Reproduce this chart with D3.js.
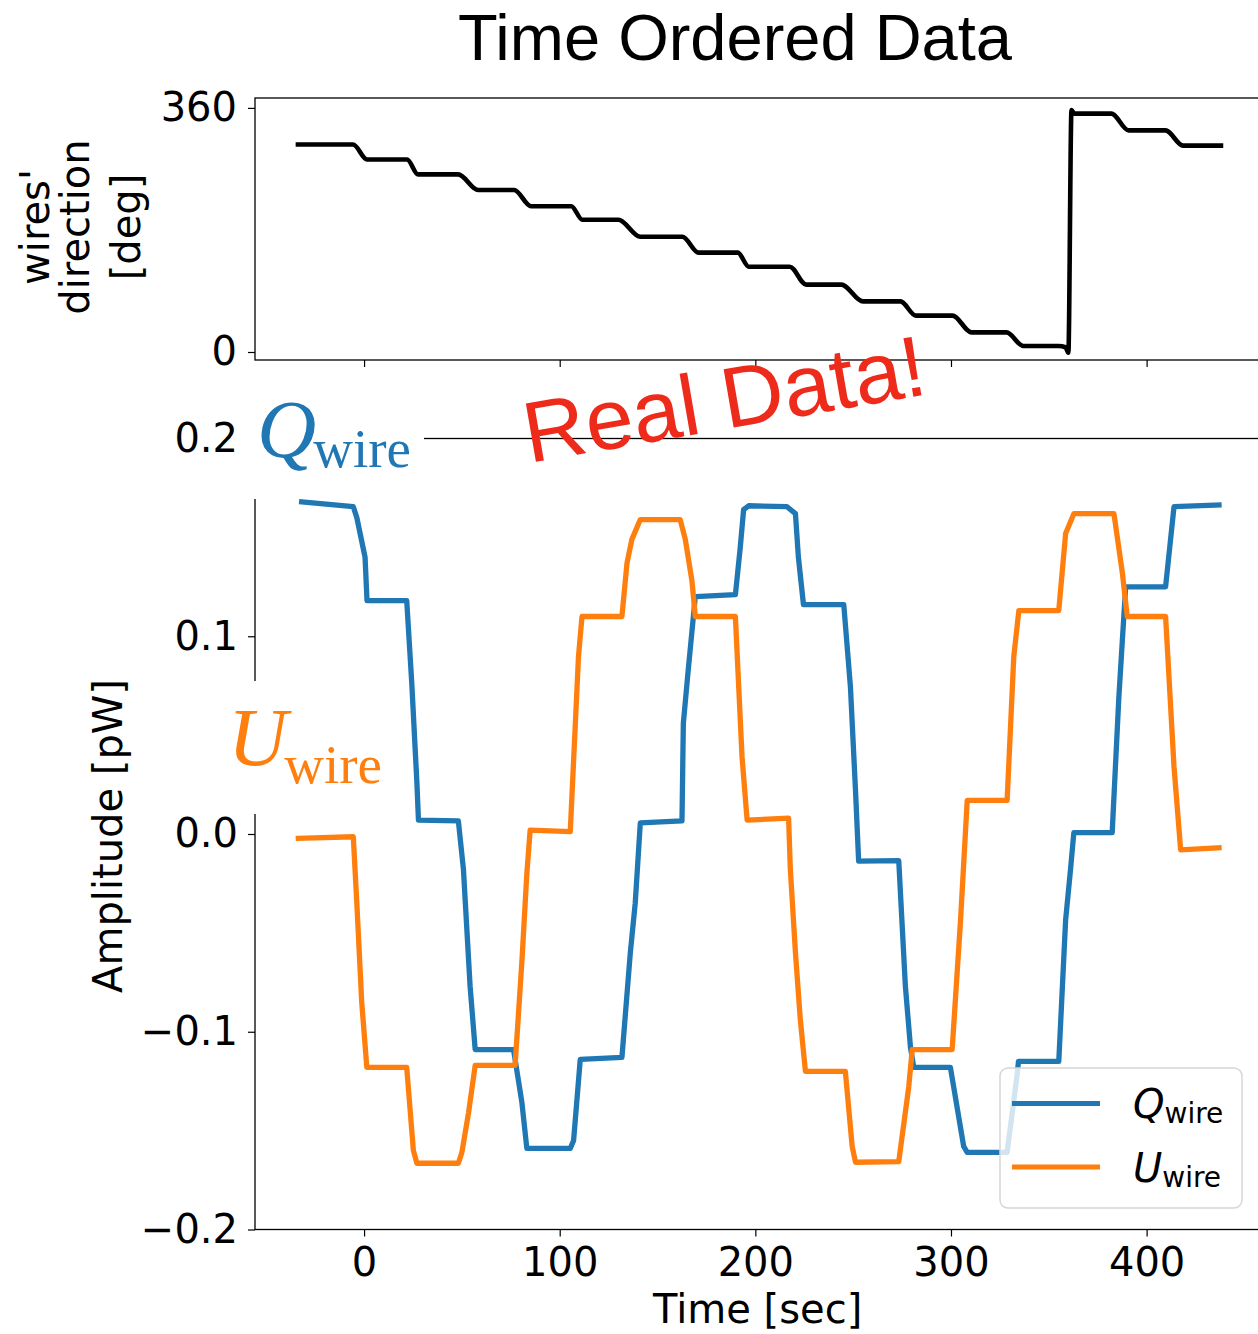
<!DOCTYPE html>
<html>
<head>
<meta charset="utf-8">
<script src="https://cdn.jsdelivr.net/npm/d3@7"></script>
<style>
  body { margin: 0; background: #fff; }
  svg { display: block; }
</style>
</head>
<body>
<div id="main"></div>
<script>
// tick values
const timeTicks = [0, 100, 200, 300, 400];
const angleTicks = [0, 360];
const ampTicks = [-0.2, -0.1, 0.0, 0.1, 0.2];

// wires' direction [deg] vs time [sec]
const wireAngle = [[-33.8,306],[-5.6,306],[1.5,284],[22,284],[27.6,262],[48.1,262],[58.3,239],[76.7,239],
  [85.4,215],[105.9,215],[111.6,195],[130,195],[141.2,170],[162.7,170],[171,146.5],[191,146.5],
  [196.7,125.7],[217.6,125.7],[226,99.4],[244,99.4],[255,74.6],[274.2,74.6],[282,53.7],[300.8,53.7],
  [310.5,28.9],[328.4,28.9],[337,8.8],[355,8.8],[358.5,7],[360,-1],[361.6,357],[363,351.6],
  [382,351.6],[390.8,326.8],[409.7,326.8],[418.6,304.4],[438,304.4]];

// Q_wire amplitude [pW] vs time [sec]
const qWire = [[-31.9,0.168],[-5.5,0.1655],[-3.7,0.160],[0.5,0.140],[1.5,0.118],[21.8,0.118],[24.4,0.076],
  [27.0,0.026],[27.8,0.007],[48.2,0.0066],[50.8,-0.018],[54.2,-0.077],[56.8,-0.109],[76.4,-0.109],
  [77.2,-0.114],[80.7,-0.136],[83.2,-0.159],[105.4,-0.159],[107.1,-0.155],[110.5,-0.114],[131.8,-0.113],
  [136.1,-0.060],[138.6,-0.035],[141.2,0.0056],[162.5,0.0066],[163.2,0.056],[165.7,0.083],[169.3,0.120],
  [189.8,0.121],[192.3,0.145],[194.0,0.164],[196.6,0.166],[216.2,0.1655],[220.5,0.162],[222.0,0.140],
  [224.6,0.116],[245.2,0.116],[248.6,0.0745],[251.2,0.022],[252.8,-0.0137],[273.3,-0.0135],[276.7,-0.077],
  [279.3,-0.108],[281.0,-0.118],[299.7,-0.118],[306.5,-0.158],[308.3,-0.161],[328.7,-0.161],[333.9,-0.121],
  [334.5,-0.115],[355.1,-0.115],[358.6,-0.0435],[361.1,-0.018],[362.8,0.0007],[382.4,0.0007],[385.8,0.069],
  [387.6,0.098],[389.3,0.125],[409.7,0.125],[414.0,0.1655],[437.0,0.1664]];

// U_wire amplitude [pW] vs time [sec]
const uWire = [[-33.6,-0.0022],[-5.5,-0.0014],[-3.7,-0.035],[-1.2,-0.085],[1.4,-0.118],[21.8,-0.118],
  [25.2,-0.160],[27.0,-0.1665],[48.2,-0.1665],[50.0,-0.161],[53.4,-0.141],[56.8,-0.117],[77.2,-0.117],
  [80.7,-0.064],[83.2,-0.020],[84.9,0.002],[105.4,0.0012],[109.6,0.0897],[111.4,0.110],[131.8,0.110],
  [134.4,0.137],[136.9,0.149],[141.2,0.159],[161.6,0.159],[164.2,0.149],[167.6,0.128],[169.3,0.110],
  [189.8,0.110],[193.2,0.039],[195.8,0.007],[217.0,0.008],[217.9,-0.018],[220.5,-0.060],[223.0,-0.094],
  [225.6,-0.120],[246.0,-0.120],[249.5,-0.158],[251.2,-0.166],[273.3,-0.1657],[278.4,-0.128],[280.2,-0.109],
  [300.6,-0.109],[304.9,-0.0435],[308.3,0.017],[328.7,0.017],[332.1,0.0897],[334.7,0.113],[355.1,0.113],
  [358.6,0.152],[362.8,0.162],[383.3,0.162],[387.6,0.132],[390.1,0.110],[409.7,0.110],[414.0,0.034],
  [417.4,-0.008],[437.0,-0.007]];

const ctx = {
  width: 1258, height: 1334,
  left: 255, right: 1264,
  top1: 98, bottom1: 360,
  top2: 438.5, bottom2: 1229.5,
  blue: "#1f77b4", orange: "#ff7f0e",
  font: "'DejaVu Sans', sans-serif"
};

const svg = d3.select("#main").append("svg")
  .attr("width", ctx.width).attr("height", ctx.height)
  .style("font-family", ctx.font);

const x = d3.scaleLinear().domain([-55.75, 460]).range([ctx.left, ctx.right]);
const yAng = d3.scaleLinear().domain([-11.8, 374.6]).range([ctx.bottom1, ctx.top1]);
const yAmp = d3.scaleLinear().domain([-0.2, 0.2]).range([ctx.bottom2, ctx.top2]);

// title
svg.append("text").attr("x", 735).attr("y", 60)
  .attr("text-anchor", "middle")
  .style("font-family", "'Liberation Sans', Arial, sans-serif")
  .style("font-size", "65px")
  .text("Time Ordered Data");

// frames
function frame(top, bottom) {
  svg.append("rect")
    .attr("x", ctx.left).attr("y", top)
    .attr("width", ctx.right - ctx.left).attr("height", bottom - top)
    .attr("fill", "none").attr("stroke", "#000").attr("stroke-width", 1.3);
}
frame(ctx.top1, ctx.bottom1);
frame(ctx.top2, ctx.bottom2);

function styleAxis(g) {
  g.select(".domain").remove();
  g.selectAll(".tick line").attr("stroke", "#000").attr("stroke-width", 1.2);
  g.selectAll(".tick text").style("font-size", "40px").style("font-family", ctx.font).attr("fill", "#000");
}

// top panel axes
svg.append("g").attr("transform", `translate(${ctx.left},0)`)
  .call(d3.axisLeft(yAng).tickValues(angleTicks).tickSize(7).tickPadding(11).tickSizeOuter(0))
  .call(styleAxis);
svg.append("g").attr("transform", `translate(0,${ctx.bottom1})`)
  .call(d3.axisBottom(x).tickValues(timeTicks).tickSize(7).tickFormat("").tickSizeOuter(0))
  .call(styleAxis);

// bottom panel axes
svg.append("g").attr("transform", `translate(${ctx.left},0)`)
  .call(d3.axisLeft(yAmp).tickValues(ampTicks).tickSize(7).tickPadding(10).tickSizeOuter(0)
    .tickFormat(d => d === 0 ? "0.0" : d3.format(".1f")(d)))
  .call(styleAxis);
svg.append("g").attr("transform", `translate(0,${ctx.bottom2})`)
  .call(d3.axisBottom(x).tickValues(timeTicks).tickSize(7).tickPadding(11).tickSizeOuter(0))
  .call(styleAxis);

// axis labels
svg.append("text").attr("transform", "translate(653,1323)")
  .style("font-size", "40px").text("Time [sec]");
svg.append("text").attr("transform", "translate(122,836) rotate(-90)")
  .attr("text-anchor", "middle").style("font-size", "40px").text("Amplitude [pW]");
const ylab = ["wires'", "direction", "[deg]"];
const ylabX = [49, 89, 140];
ylab.forEach((s, i) => {
  svg.append("text").attr("transform", `translate(${ylabX[i]},227) rotate(-90)`)
    .attr("text-anchor", "middle").style("font-size", "40px").text(s);
});

// lines
const lineTop = d3.line().x(d => x(d[0])).y(d => yAng(d[1])).curve(d3.curveMonotoneX);
svg.append("path").datum(wireAngle).attr("d", lineTop)
  .attr("fill", "none").attr("stroke", "#000").attr("stroke-width", 4.6)
  .attr("stroke-linejoin", "round").attr("stroke-linecap", "square");

const lineAmp = d3.line().x(d => x(d[0])).y(d => yAmp(d[1]));
[[qWire, ctx.blue], [uWire, ctx.orange]].forEach(([data, color]) => {
  svg.append("path").datum(data).attr("d", lineAmp)
    .attr("fill", "none").attr("stroke", color).attr("stroke-width", 5.3)
    .attr("stroke-linejoin", "round").attr("stroke-linecap", "square");
});

// legend
const lg = svg.append("g");
lg.append("rect").attr("x", 1000).attr("y", 1068).attr("width", 242).attr("height", 140)
  .attr("rx", 8).attr("fill", "#fff").attr("fill-opacity", 0.8)
  .attr("stroke", "#d6d6d6").attr("stroke-width", 1.5);
const legendItems = [["Q", ctx.blue, 1103.5, 1118], ["U", ctx.orange, 1167, 1182]];
legendItems.forEach(([sym, color, ly, ty]) => {
  lg.append("line").attr("x1", 1012).attr("x2", 1100).attr("y1", ly).attr("y2", ly)
    .attr("stroke", color).attr("stroke-width", 5);
  const t = lg.append("text").attr("x", 1133).attr("y", ty).style("font-size", "40px");
  t.append("tspan").style("font-style", "italic").text(sym);
  t.append("tspan").attr("dy", 5).style("font-size", "28px").text("wire");
});

// overlay labels with white backing
svg.append("rect").attr("x", 246).attr("y", 384).attr("width", 178).attr("height", 115).attr("fill", "#fff");
svg.append("rect").attr("x", 226).attr("y", 681).attr("width", 158).attr("height", 133).attr("fill", "#fff");

function serifLabel(sym, color, x0, y0, sub) {
  const t = svg.append("text").attr("x", x0).attr("y", y0)
    .style("font-family", "'Liberation Serif', 'Times New Roman', serif").attr("fill", color);
  t.append("tspan").style("font-style", "italic").style("font-size", "82px").text(sym);
  t.append("tspan").attr("dy", sub).attr("dx", -3).style("font-size", "55px").text("wire");
}
serifLabel("Q", ctx.blue, 257, 457, 10);
serifLabel("U", ctx.orange, 228, 765, 18);

// red annotation
svg.append("text").attr("transform", "translate(529,463) rotate(-9.8)")
  .style("font-family", "'Liberation Sans', Arial, sans-serif")
  .style("font-size", "86px").attr("fill", "#ee2a1b")
  .text("Real Data!");
</script>
</body>
</html>
